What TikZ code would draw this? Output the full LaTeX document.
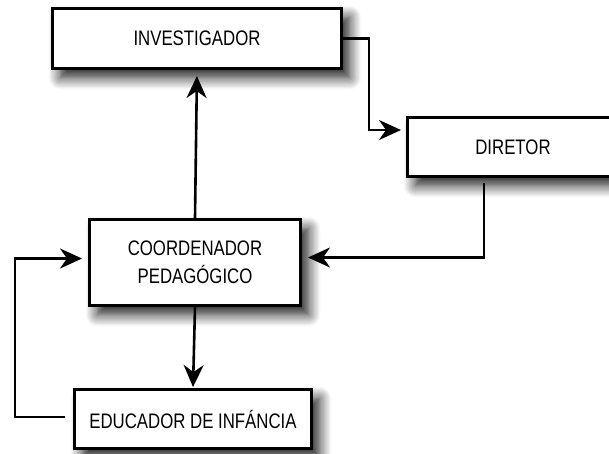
\documentclass[tikz,border=0pt]{standalone}
\usepackage{fontspec}
\setmainfont[FakeStretch=0.8]{Liberation Sans}
\usetikzlibrary{arrows.meta,shadows.blur}
\begin{document}
\begin{tikzpicture}[x=1pt,y=-1pt,
  box/.style={draw=black,line width=3pt,fill=white,rectangle,inner sep=0pt,align=center,
    font=\fontsize{21}{28}\selectfont,
    blur shadow={shadow xshift=8pt,shadow yshift=-9pt,shadow blur radius=12pt,shadow opacity=90,shadow blur steps=10}},
  conn/.style={line width=2.6pt,-{Stealth[length=22pt,width=20pt,inset=7pt]}}]
\useasboundingbox (0,0) rectangle (609,453);
\node[box,minimum width=289pt,minimum height=60pt] (inv) at (197,38.5) {INVESTIGADOR};
\node[box,minimum width=211pt,minimum height=59pt] (dir) at (513,147) {DIRETOR};
\node[box,minimum width=211pt,minimum height=86pt] (coord) at (195,262.5) {COORDENADOR\\PEDAGÓGICO};
\node[box,minimum width=237pt,minimum height=59pt] (edu) at (193,419) {EDUCADOR DE INFÁNCIA};
\draw[conn,shorten >=5pt] (inv.east) -- ++(26,0) |- ([yshift=17pt]dir.west);
\draw[conn,shorten <=5pt,shorten >=6pt] ([xshift=-29pt]dir.south) |- ([yshift=5pt]coord.east);
\draw[conn,shorten >=6pt] (coord.north) -- (inv.south);
\draw[conn,shorten >=1pt] (coord.south) -- (edu.north);
\draw[conn,shorten <=8pt,shorten >=6pt] ([yshift=2pt]edu.west) -- ++(-58,0) |- ([yshift=4pt]coord.west);
\end{tikzpicture}
\end{document}
